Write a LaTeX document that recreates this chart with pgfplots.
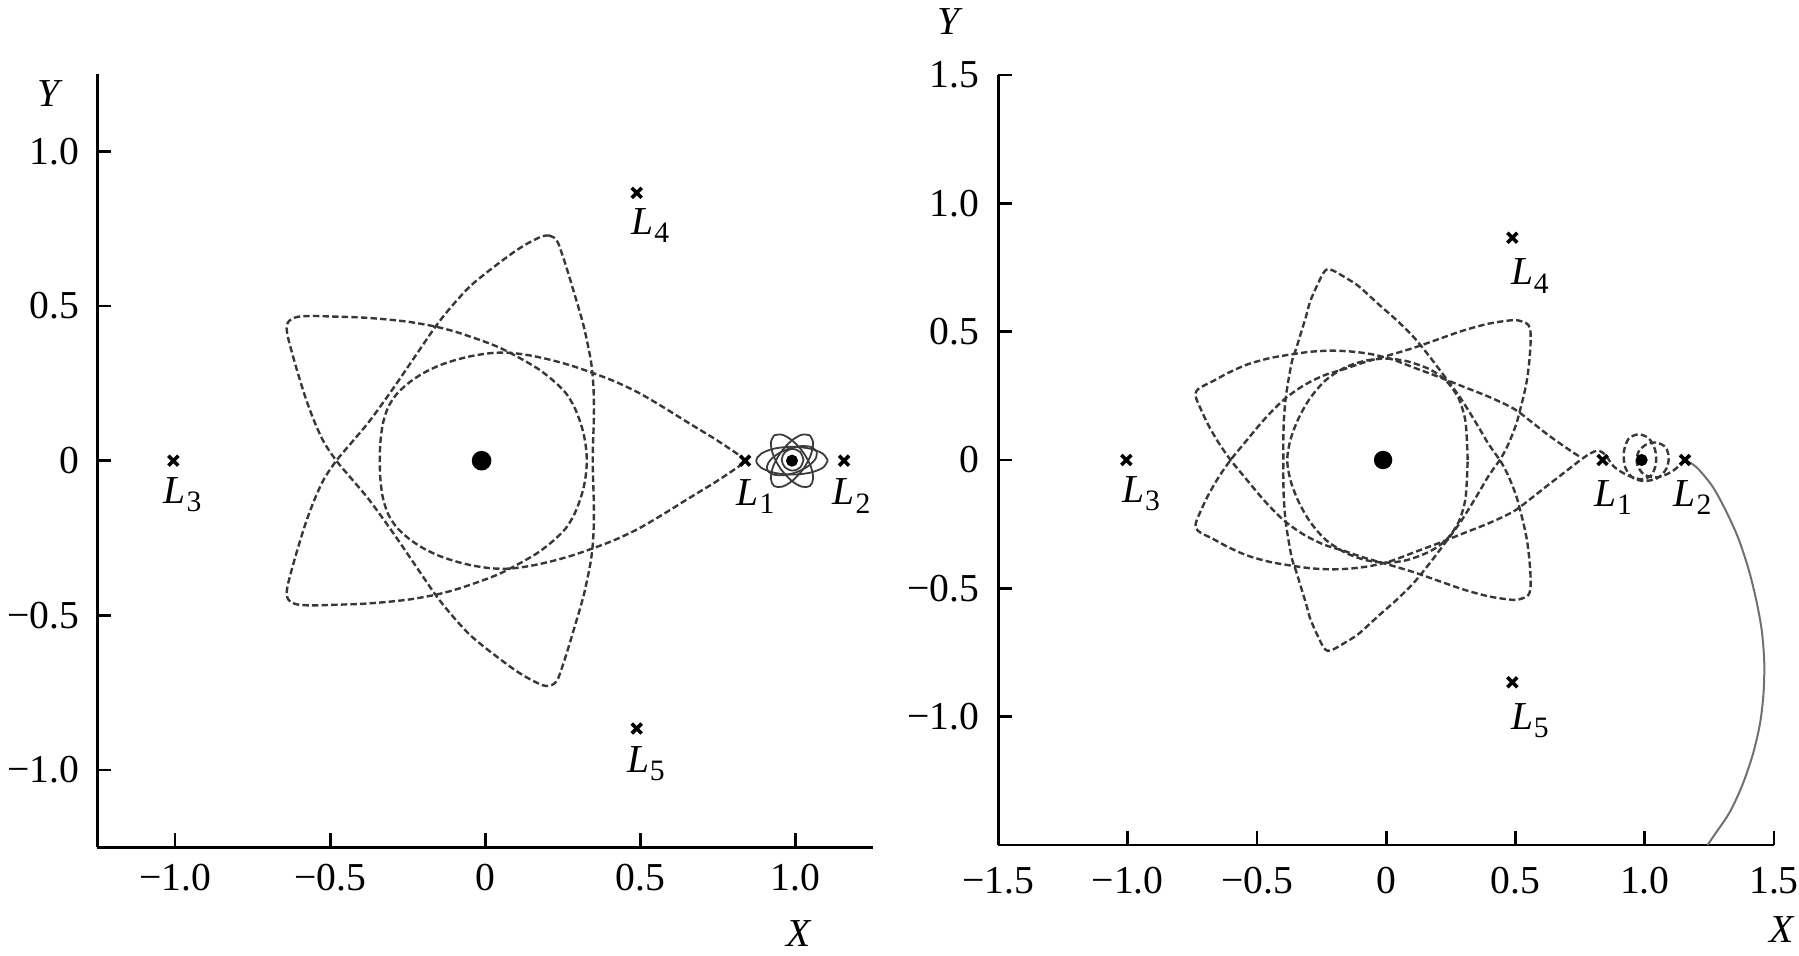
\documentclass[border=0pt]{standalone}
\usepackage{fontspec}
\setmainfont{Liberation Serif}
\usepackage{pgfplots}
\pgfplotsset{compat=1.18}
\definecolor{dashc}{HTML}{383838}
\definecolor{solc}{HTML}{3C3C3C}
\definecolor{escc}{HTML}{707070}
\newcommand{\Lp}[1]{\textit{L}\kern0.2pt\raisebox{-2.1pt}{\fontsize{7.4}{8}\selectfont #1}}
\tikzset{lbl/.style={anchor=base west, inner sep=0pt, font=\fontsize{9.9}{12}\selectfont}}
\pgfplotsset{
  orbitaxis/.style={
    scale only axis,
    axis x line*=bottom, axis y line*=left,
    axis line style={line width=0.7pt, black},
    every tick/.style={line width=0.7pt, black},
    major tick length=3.5pt,
    tick align=inside,
    clip=false,
    ticklabel style={font=\fontsize{9.9}{12}\selectfont},
  },
  dashorb/.style={smooth, tension=0.5, line width=0.6pt, color=dashc, dash pattern=on 1.6pt off 0.8pt},
  solorb/.style={smooth, tension=0.55, line width=0.45pt, color=solc},
  lagr/.style={only marks, mark=x, mark size=1.75pt, line width=0.9pt, black},
}
\begin{document}
\begin{tikzpicture}
\useasboundingbox (0,0) rectangle (449.75pt,238.75pt);
% ---------------- left panel ----------------
\begin{axis}[orbitaxis,
  at={(24.33pt,26.93pt)}, anchor=south west,
  width=194pt, height=193.3pt,
  xmin=-1.25, xmax=1.25, ymin=-1.25, ymax=1.25,
  xtick={-1,-0.5,0,0.5,1}, xticklabels={−1.0,−0.5,0,0.5,1.0},
  ytick={-1,-0.5,0,0.5,1}, yticklabels={−1.0,−0.5,0,0.5,1.0},
  xticklabel style={yshift=-0.8pt},
  yticklabel style={xshift=-1pt},
]
% teardrop loop from L1
\addplot[dashorb] coordinates {
(0.837,0.000)(0.816,0.019)(0.740,0.070)(0.655,0.122)(0.575,0.172)(0.495,0.219)
(0.420,0.255)(0.345,0.284)(0.275,0.308)(0.206,0.327)(0.140,0.341)(0.077,0.349)
(0.020,0.348)(-0.041,0.339)(-0.094,0.326)(-0.148,0.308)(-0.200,0.283)(-0.245,0.253)
(-0.285,0.216)(-0.313,0.173)(-0.330,0.120)(-0.338,0.060)(-0.340,0.000)
(-0.338,-0.060)(-0.330,-0.120)(-0.313,-0.173)(-0.285,-0.216)(-0.245,-0.253)
(-0.200,-0.283)(-0.148,-0.308)(-0.094,-0.326)(-0.041,-0.339)(0.020,-0.348)
(0.077,-0.349)(0.140,-0.341)(0.206,-0.327)(0.275,-0.308)(0.345,-0.284)
(0.420,-0.255)(0.495,-0.219)(0.575,-0.172)(0.655,-0.122)(0.740,-0.070)
(0.816,-0.019)(0.837,0.000)
};
% star loop
\addplot[dashorb] coordinates {
(0.205,0.728)(0.222,0.721)(0.234,0.705)(0.244,0.678)(0.255,0.645)(0.270,0.597)
(0.286,0.543)(0.302,0.489)(0.317,0.435)(0.329,0.381)(0.339,0.330)(0.345,0.284)
(0.349,0.225)(0.350,0.165)(0.349,0.110)(0.347,0.055)(0.346,0.000)(0.347,-0.055)
(0.349,-0.110)(0.350,-0.165)(0.349,-0.225)(0.345,-0.284)(0.339,-0.330)(0.329,-0.381)
(0.317,-0.435)(0.302,-0.489)(0.286,-0.543)(0.270,-0.597)(0.255,-0.645)(0.244,-0.678)
(0.234,-0.705)(0.222,-0.721)(0.205,-0.728)
(0.184,-0.726)(0.141,-0.705)(0.100,-0.680)(0.056,-0.648)(0.000,-0.605)(-0.051,-0.562)
(-0.105,-0.503)(-0.158,-0.437)(-0.223,-0.342)(-0.298,-0.232)(-0.373,-0.128)
(-0.428,-0.062)(-0.480,0.000)(-0.520,0.060)(-0.550,0.125)(-0.578,0.200)(-0.603,0.280)
(-0.623,0.350)(-0.636,0.400)(-0.640,0.428)(-0.636,0.447)(-0.624,0.458)(-0.605,0.465)
(-0.560,0.468)(-0.490,0.466)(-0.400,0.463)(-0.320,0.457)(-0.240,0.448)(-0.158,0.433)
(-0.100,0.418)(-0.051,0.402)(0.000,0.384)(0.045,0.366)(0.077,0.350)(0.125,0.324)
(0.173,0.295)(0.220,0.258)(0.259,0.219)(0.285,0.177)(0.303,0.133)(0.316,0.090)
(0.324,0.045)(0.327,0.000)(0.324,-0.045)(0.316,-0.090)(0.303,-0.133)(0.285,-0.177)
(0.259,-0.219)(0.220,-0.258)(0.173,-0.295)(0.125,-0.324)(0.077,-0.350)(0.045,-0.366)
(0.000,-0.384)(-0.051,-0.402)(-0.100,-0.418)(-0.158,-0.433)(-0.240,-0.448)
(-0.320,-0.457)(-0.400,-0.463)(-0.490,-0.466)(-0.560,-0.468)(-0.605,-0.465)
(-0.624,-0.458)(-0.636,-0.447)(-0.640,-0.428)
(-0.636,-0.400)(-0.623,-0.350)(-0.603,-0.280)(-0.578,-0.200)(-0.550,-0.125)
(-0.520,-0.060)(-0.480,0.000)(-0.428,0.062)(-0.373,0.128)(-0.298,0.232)(-0.223,0.342)
(-0.158,0.437)(-0.105,0.503)(-0.051,0.562)(0.000,0.605)(0.056,0.648)(0.100,0.680)
(0.141,0.705)(0.184,0.726)(0.205,0.728)
};
% loops around the Moon
\addplot[solorb] coordinates {(1.103,0)(1.0876,0.0225)(1.0455,0.039)(0.988,0.045)(0.9305,0.039)(0.8884,0.0225)(0.873,0)(0.8884,-0.0225)(0.9305,-0.039)(0.988,-0.045)(1.0455,-0.039)(1.0876,-0.0225)(1.103,0)};
\addplot[solorb] coordinates {(1.0454,0.0819)(1.0192,0.0839)(0.9848,0.0633)(0.9511,0.0258)(0.9274,-0.0186)(0.9199,-0.058)(0.9306,-0.0819)(0.9568,-0.0839)(0.9912,-0.0633)(1.0249,-0.0258)(1.0486,0.0186)(1.0561,0.058)(1.0454,0.0819)};
\addplot[solorb] coordinates {(0.9306,0.0819)(0.9568,0.0839)(0.9912,0.0633)(1.0249,0.0258)(1.0486,-0.0186)(1.0561,-0.058)(1.0454,-0.0819)(1.0192,-0.0839)(0.9848,-0.0633)(0.9511,-0.0258)(0.9274,0.0186)(0.9199,0.058)(0.9306,0.0819)};
\addplot[solorb] coordinates {(1.0679,0.0291)(1.0504,0.044)(1.0161,0.047)(0.9743,0.0376)(0.9363,0.018)(0.912,-0.0064)(0.9081,-0.0291)(0.9256,-0.044)(0.9599,-0.047)(1.0017,-0.0376)(1.0397,-0.018)(1.064,0.0064)(1.0679,0.0291)};
\addplot[solorb] coordinates {(1.025,0.003)(1.0147,0.0277)(0.99,0.038)(0.9653,0.0277)(0.955,0.003)(0.9653,-0.0217)(0.99,-0.032)(1.0147,-0.0217)(1.025,0.003)};
\addplot[only marks, mark=*, mark size=2.25pt, black] coordinates {(-0.012,0)};
\addplot[only marks, mark=*, mark size=1.3pt, black] coordinates {(0.988,0)};
\addplot[lagr] coordinates {(0.8369,0)(1.1557,0)(-1.005,0)(0.4878,0.866)(0.4878,-0.866)};
\node[lbl, xshift=-2.3pt, yshift=-11.2pt] at (axis cs:0.8369,0) {\Lp{1}};
\node[lbl, xshift=-3pt, yshift=-11pt] at (axis cs:1.1557,0) {\Lp{2}};
\node[lbl, xshift=-2.6pt, yshift=-10.6pt] at (axis cs:-1.005,0) {\Lp{3}};
\node[lbl, xshift=-1.5pt, yshift=-10.3pt] at (axis cs:0.4878,0.866) {\Lp{4}};
\node[lbl, xshift=-2.6pt, yshift=-11pt] at (axis cs:0.4878,-0.866) {\Lp{5}};
\node[font=\fontsize{9.9}{12}\selectfont\itshape] at (axis cs:-1.407,1.186) {Y};
\node[font=\fontsize{9.9}{12}\selectfont\itshape] at (axis cs:1.01,-1.529) {X};
\end{axis}
% ---------------- right panel ----------------
\begin{axis}[orbitaxis,
  at={(249.6pt,27.5pt)}, anchor=south west,
  width=193.9pt, height=192.5pt,
  xmin=-1.5, xmax=1.5, ymin=-1.5, ymax=1.5,
  xtick={-1.5,-1,-0.5,0,0.5,1,1.5}, xticklabels={−1.5,−1.0,−0.5,0,0.5,1.0,1.5},
  ytick={-1,-0.5,0,0.5,1,1.5}, yticklabels={−1.0,−0.5,0,0.5,1.0,1.5},
  xticklabel style={yshift=-2.1pt},
  yticklabel style={xshift=-1.3pt},
]
% near-circular orbit
\addplot[dashorb] coordinates {
(0.315,0.000)(0.312,0.080)(0.305,0.160)(0.280,0.240)(0.235,0.305)(0.171,0.352)
(0.080,0.385)(0.000,0.395)(-0.080,0.387)(-0.160,0.360)(-0.235,0.310)(-0.295,0.240)
(-0.340,0.160)(-0.370,0.080)(-0.383,0.000)(-0.370,-0.080)(-0.340,-0.160)(-0.295,-0.240)
(-0.235,-0.310)(-0.160,-0.360)(-0.080,-0.390)(0.000,-0.400)(0.080,-0.390)(0.171,-0.355)
(0.235,-0.308)(0.280,-0.242)(0.305,-0.160)(0.312,-0.080)(0.315,0.000)
};
% transfer trajectory: L1 -> around the Earth -> L1 -> Moon -> L2
\addplot[dashorb] coordinates {
(0.745,0.015)(0.700,0.045)(0.623,0.100)(0.560,0.150)(0.493,0.200)(0.400,0.245)
(0.300,0.285)(0.200,0.325)(0.107,0.360)(0.020,0.393)(-0.061,0.413)(-0.140,0.423)
(-0.215,0.426)(-0.290,0.422)(-0.357,0.413)(-0.450,0.397)(-0.538,0.372)(-0.610,0.340)
(-0.667,0.309)(-0.705,0.290)(-0.728,0.276)(-0.738,0.258)
(-0.733,0.235)(-0.718,0.200)(-0.690,0.140)(-0.650,0.070)(-0.602,0.000)(-0.545,-0.070)
(-0.470,-0.160)(-0.396,-0.235)(-0.320,-0.290)(-0.240,-0.330)(-0.160,-0.355)
(-0.087,-0.380)(0.000,-0.405)(0.100,-0.435)(0.200,-0.470)(0.300,-0.505)(0.400,-0.532)
(0.493,-0.545)(0.530,-0.538)(0.550,-0.526)(0.558,-0.500)
(0.558,-0.446)(0.553,-0.380)(0.545,-0.316)(0.534,-0.260)(0.519,-0.199)(0.503,-0.140)
(0.481,-0.082)(0.463,-0.042)(0.442,-0.004)(0.418,0.030)(0.391,0.070)(0.362,0.120)
(0.326,0.180)(0.285,0.245)(0.236,0.312)(0.170,0.400)(0.107,0.478)(0.040,0.545)
(-0.022,0.600)(-0.060,0.635)(-0.110,0.680)(-0.160,0.712)(-0.205,0.738)(-0.228,0.743)
(-0.242,0.730)(-0.258,0.700)(-0.293,0.621)(-0.310,0.560)(-0.331,0.491)(-0.348,0.435)
(-0.364,0.387)(-0.380,0.300)(-0.390,0.230)(-0.396,0.150)(-0.398,0.075)(-0.398,0.000)
(-0.398,-0.075)(-0.396,-0.150)(-0.390,-0.230)(-0.380,-0.300)(-0.364,-0.387)
(-0.348,-0.435)(-0.331,-0.491)(-0.310,-0.560)(-0.293,-0.621)(-0.258,-0.700)
(-0.242,-0.730)(-0.228,-0.743)
(-0.205,-0.738)(-0.160,-0.712)(-0.110,-0.680)(-0.060,-0.635)(-0.022,-0.600)
(0.040,-0.545)(0.107,-0.478)(0.170,-0.400)(0.236,-0.312)(0.285,-0.245)(0.326,-0.180)
(0.362,-0.120)(0.391,-0.070)(0.418,-0.030)(0.442,0.004)(0.463,0.042)(0.481,0.082)
(0.503,0.140)(0.519,0.199)(0.534,0.260)(0.545,0.316)(0.553,0.380)(0.558,0.446)
(0.558,0.500)(0.550,0.526)(0.530,0.538)(0.493,0.545)
(0.400,0.532)(0.300,0.505)(0.200,0.470)(0.100,0.435)(0.000,0.405)(-0.087,0.380)
(-0.160,0.355)(-0.240,0.330)(-0.320,0.290)(-0.396,0.235)(-0.470,0.160)(-0.545,0.070)
(-0.602,0.000)(-0.650,-0.070)(-0.690,-0.140)(-0.718,-0.200)(-0.733,-0.235)
(-0.738,-0.258)(-0.728,-0.276)(-0.705,-0.290)
(-0.667,-0.309)(-0.610,-0.340)(-0.538,-0.372)(-0.450,-0.397)(-0.357,-0.413)
(-0.290,-0.422)(-0.215,-0.426)(-0.140,-0.423)(-0.061,-0.413)(0.020,-0.393)
(0.107,-0.360)(0.200,-0.325)(0.300,-0.285)(0.400,-0.245)(0.493,-0.200)(0.560,-0.150)
(0.623,-0.100)(0.690,-0.048)(0.745,-0.005)(0.780,0.020)(0.805,0.033)(0.825,0.035)
(0.848,0.020)(0.880,-0.025)(0.930,-0.058)(0.985,-0.075)(1.025,-0.060)(1.043,-0.015)
(1.040,0.040)(1.015,0.085)(0.975,0.100)(0.937,0.082)(0.919,0.030)(0.925,-0.030)
(0.955,-0.070)(1.000,-0.082)(1.050,-0.070)(1.083,-0.035)(1.093,0.010)(1.080,0.050)
(1.045,0.068)(1.005,0.060)(0.975,0.030)(0.970,-0.015)(0.995,-0.055)(1.040,-0.068)
(1.080,-0.058)(1.115,-0.038)(1.140,-0.015)(1.157,0.000)
};
% escape branch beyond L2
\addplot[smooth, line width=0.5pt, color=escc] coordinates {
(1.157,0)(1.200,-0.028)(1.260,-0.100)(1.310,-0.190)(1.360,-0.300)(1.400,-0.420)
(1.430,-0.540)(1.452,-0.660)(1.462,-0.780)(1.460,-0.900)(1.447,-1.020)(1.420,-1.140)
(1.380,-1.260)(1.330,-1.370)(1.270,-1.460)(1.243,-1.500)
};
\addplot[only marks, mark=*, mark size=2.1pt, black] coordinates {(-0.012,0)};
\addplot[only marks, mark=*, mark size=1.3pt, black] coordinates {(0.988,0)};
\addplot[lagr] coordinates {(0.8369,0)(1.1557,0)(-1.005,0)(0.4878,0.866)(0.4878,-0.866)};
\node[lbl, xshift=-2.3pt, yshift=-11.5pt] at (axis cs:0.8369,0) {\Lp{1}};
\node[lbl, xshift=-3pt, yshift=-11.5pt] at (axis cs:1.1557,0) {\Lp{2}};
\node[lbl, xshift=-1.2pt, yshift=-10.6pt] at (axis cs:-1.005,0) {\Lp{3}};
\node[lbl, xshift=-0.5pt, yshift=-11.8pt] at (axis cs:0.4878,0.866) {\Lp{4}};
\node[lbl, xshift=-0.5pt, yshift=-11.8pt] at (axis cs:0.4878,-0.866) {\Lp{5}};
\node[font=\fontsize{9.9}{12}\selectfont\itshape] at (axis cs:-1.693,1.707) {Y};
\node[font=\fontsize{9.9}{12}\selectfont\itshape] at (axis cs:1.531,-1.828) {X};
\end{axis}
\end{tikzpicture}
\end{document}
